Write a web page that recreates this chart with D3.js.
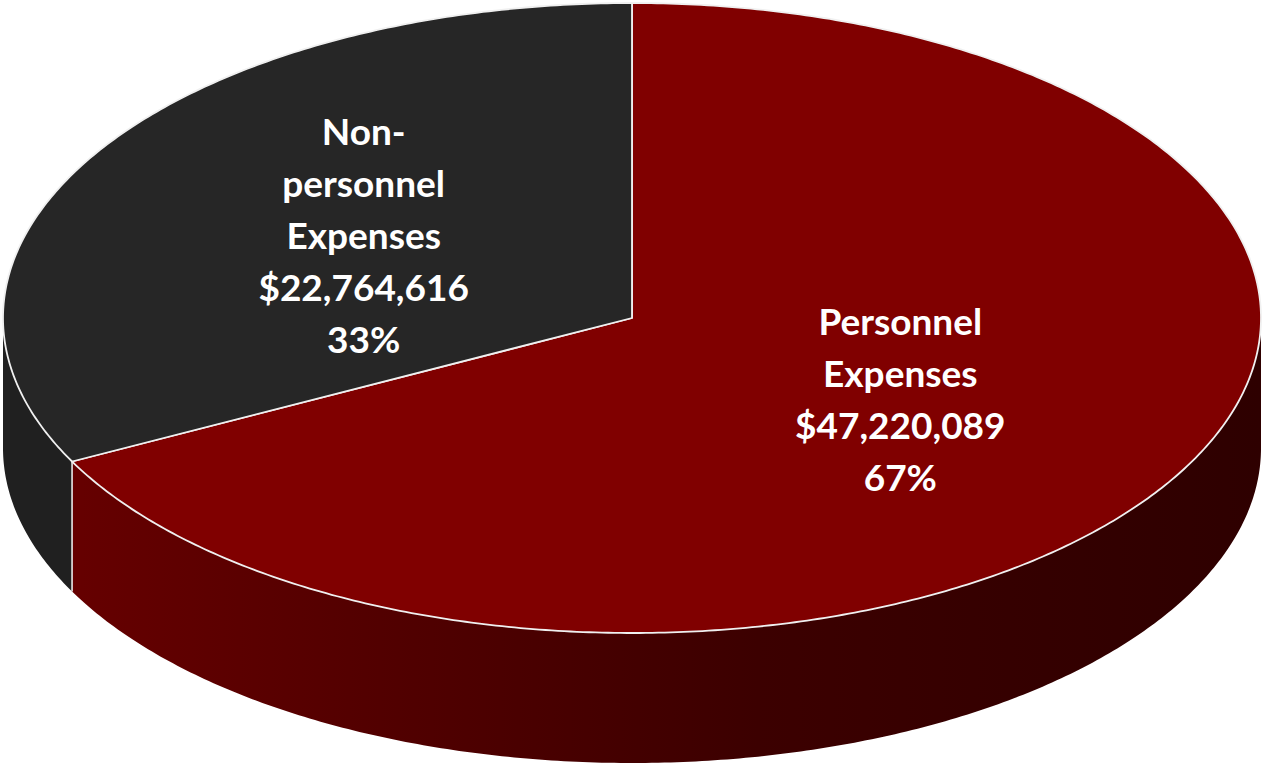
<!DOCTYPE html>
<html>
<head>
<meta charset="utf-8">
<script src="https://cdn.jsdelivr.net/npm/d3@7"></script>
<style>
  body { margin: 0; background: #fff; }
  svg { display: block; }
</style>
</head>
<body>
<svg id="pie" width="1263" height="764"></svg>
<script>
const categories = ["Personnel Expenses", "Non-personnel Expenses"];
const labelWords = [["Personnel", "Expenses"], ["Non-", "personnel", "Expenses"]];
const values = [47220089, 22764616];
const topColors = ["#800000", "#262626"];

const svg = d3.select("#pie");
const cx = 632, cy = 318, rx = 629, ry = 315, depth = 130;

const total = d3.sum(values);
const fmtMoney = d3.format("$,");
const fmtPct = d3.format(".0%");

const arcs = d3.pie().sort(null).value(d => d)(values);

function pt(a, dy) {
  return [cx + rx * Math.sin(a), cy - ry * Math.cos(a) + (dy || 0)];
}

function arcPoints(a0, a1, dy) {
  const n = Math.max(2, Math.ceil(Math.abs(a1 - a0) / 0.01));
  return d3.range(n + 1).map(i => pt(a0 + (a1 - a0) * i / n, dy));
}

const line = d3.line();

// gradient for the red side wall
const defs = svg.append("defs");
const grad = defs.append("linearGradient")
  .attr("id", "sideRed")
  .attr("gradientUnits", "userSpaceOnUse")
  .attr("x1", cx - rx).attr("x2", cx + rx)
  .attr("y1", 0).attr("y2", 0);
[[0, "#6a0000"], [0.3, "#520000"], [0.6, "#3c0000"], [1, "#2e0000"]].forEach(s => {
  grad.append("stop").attr("offset", s[0]).attr("stop-color", s[1]);
});
const sideFills = ["url(#sideRed)", "#202020"];

// side walls (front half only)
arcs.forEach((d, i) => {
  const s = Math.max(d.startAngle, Math.PI / 2);
  const e = Math.min(d.endAngle, 3 * Math.PI / 2);
  if (s >= e) return;
  const pts = arcPoints(s, e, 0).concat(arcPoints(e, s, depth));
  svg.append("path")
    .attr("d", line(pts) + "Z")
    .attr("fill", sideFills[i]);
});

// vertical edges where slices meet on the front
arcs.forEach(d => {
  const a = d.endAngle;
  if (a > Math.PI / 2 && a < 3 * Math.PI / 2) {
    const p = pt(a, 0);
    svg.append("line")
      .attr("x1", p[0]).attr("x2", p[0])
      .attr("y1", p[1]).attr("y2", p[1] + depth)
      .attr("stroke", "#e8e8e8")
      .attr("stroke-width", 1.6);
  }
});

// top faces
arcs.forEach((d, i) => {
  const pts = [[cx, cy]].concat(arcPoints(d.startAngle, d.endAngle, 0));
  svg.append("path")
    .attr("d", line(pts) + "Z")
    .attr("fill", topColors[i])
    .attr("stroke", "#f0f0f0")
    .attr("stroke-width", 1.8)
    .attr("stroke-linejoin", "round");
});

// labels
const lh = 52;
arcs.forEach((d, i) => {
  const mid = (d.startAngle + d.endAngle) / 2;
  const lx = cx + 0.5 * rx * Math.sin(mid);
  const ly = cy - 0.5 * ry * Math.cos(mid);
  const lines = labelWords[i].concat([fmtMoney(values[i]), fmtPct(values[i] / total)]);
  const y0 = ly - (lines.length - 1) * lh / 2 + 13;
  const t = svg.append("text")
    .attr("text-anchor", "middle")
    .attr("fill", "#fff")
    .attr("font-family", "Lato, 'Open Sans', sans-serif")
    .attr("font-weight", "bold")
    .attr("font-size", 37);
  lines.forEach((s, k) => {
    t.append("tspan").attr("x", lx).attr("y", y0 + k * lh).text(s);
  });
});
</script>
</body>
</html>
